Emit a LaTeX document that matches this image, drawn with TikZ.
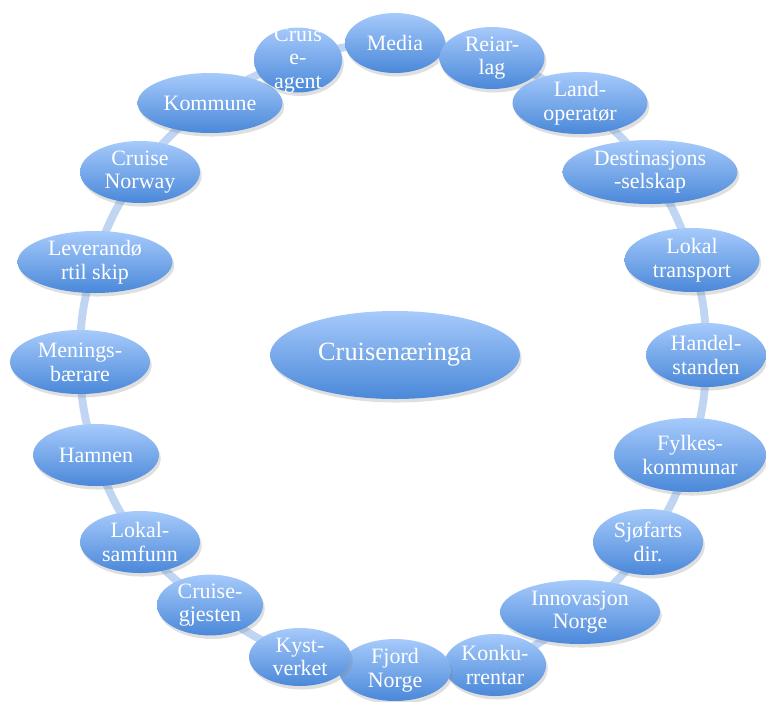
\documentclass[tikz,border=0pt]{standalone}
\usepackage{fontspec}
\setmainfont{Liberation Serif}
\usetikzlibrary{shapes.geometric,shadows,backgrounds}

\definecolor{topblue}{RGB}{166,202,251}
\definecolor{botblue}{RGB}{74,136,217}
\definecolor{ringblue}{RGB}{192,213,242}

\tikzset{
  actor/.style={ellipse, top color=topblue, bottom color=botblue, draw=none,
    text=white, align=center, inner sep=0pt,
    font=\fontsize{12.5}{13.5}\selectfont,
    drop shadow={opacity=0.25, shadow xshift=1pt, shadow yshift=-2pt}},
  ring/.style={ringblue, line width=4.5pt}
}

\begin{document}
\begin{tikzpicture}[x=0.02cm, y=-0.02cm]
                    \useasboundingbox (0,0) rectangle (766,701);
                    \node[actor, minimum width=5cm, minimum height=1.76cm, font=\fontsize{15}{18}\selectfont] (hub) at (395,355) {Cruisenæringa};
                    \node[actor, minimum width=2cm, minimum height=1.2cm] (media) at (395,43) {Media};
                    \node[actor, minimum width=2.1cm, minimum height=1.24cm] (reiar) at (492,58) {Reiar-\\lag};
                    \node[actor, minimum width=2.7cm, minimum height=1.24cm] (landop) at (580,103) {Land-\\operatør};
                    \node[actor, minimum width=3.5cm, minimum height=1.28cm] (dest) at (650,172) {Destinasjons\\-selskap};
                    \node[actor, minimum width=2.7cm, minimum height=1.28cm] (lokaltr) at (692,260) {Lokal\\transport};
                    \node[actor, minimum width=2.4cm, minimum height=1.28cm] (handel) at (706,355) {Handel-\\standen};
                    \node[actor, minimum width=3.04cm, minimum height=1.48cm] (fylke) at (690,455) {Fylkes-\\kommunar};
                    \node[actor, minimum width=2.2cm, minimum height=1.32cm] (sjofart) at (648,542) {Sjøfarts\\dir.};
                    \node[actor, minimum width=3.2cm, minimum height=1.28cm] (innov) at (580,612) {Innovasjon\\Norge};
                    \node[actor, minimum width=2.04cm, minimum height=1.24cm] (konk) at (495,665) {Konku-\\rrentar};
                    \node[actor, minimum width=2.24cm, minimum height=1.24cm] (fjord) at (395,670) {Fjord\\Norge};
                    \node[actor, minimum width=2.04cm, minimum height=1.16cm] (kyst) at (300,657) {Kyst-\\verket};
                    \node[actor, minimum width=2.12cm, minimum height=1.2cm] (cgjest) at (210,605) {Cruise-\\gjesten};
                    \node[actor, minimum width=2.4cm, minimum height=1.24cm] (lokalsamf) at (140,542) {Lokal-\\samfunn};
                    \node[actor, minimum width=2.52cm, minimum height=1.24cm] (hamnen) at (96,455) {Hamnen};
                    \node[actor, minimum width=2.8cm, minimum height=1.28cm] (menings) at (80,362) {Menings-\\bærare};
                    \node[actor, minimum width=3.1cm, minimum height=1.24cm] (lever) at (95,262) {Leverandø\\rtil skip};
                    \node[actor, minimum width=2.4cm, minimum height=1.24cm] (cnorway) at (140,172) {Cruise\\Norway};
                    \node[actor, minimum width=2.9cm, minimum height=1.2cm] (kommune) at (210,103) {Kommune};
                    \node[actor, minimum width=1.76cm, minimum height=1.3cm, inner ysep=-12pt] (cagent) at (298,60) {Cruis\\e-\\agent};
                    % ring between the actors
                    \begin{scope}[on background layer]
                    \foreach \a/\b in {media/reiar, reiar/landop, landop/dest, dest/lokaltr, lokaltr/handel,
                        handel/fylke, fylke/sjofart, sjofart/innov, innov/konk, konk/fjord, fjord/kyst,
                        kyst/cgjest, cgjest/lokalsamf, lokalsamf/hamnen, hamnen/menings, menings/lever,
                        lever/cnorway, cnorway/kommune, kommune/cagent, cagent/media}
                        \draw[ring] (\a.center) to[bend left=9] (\b.center);
                    \end{scope}
                \end{tikzpicture}
\end{document}
